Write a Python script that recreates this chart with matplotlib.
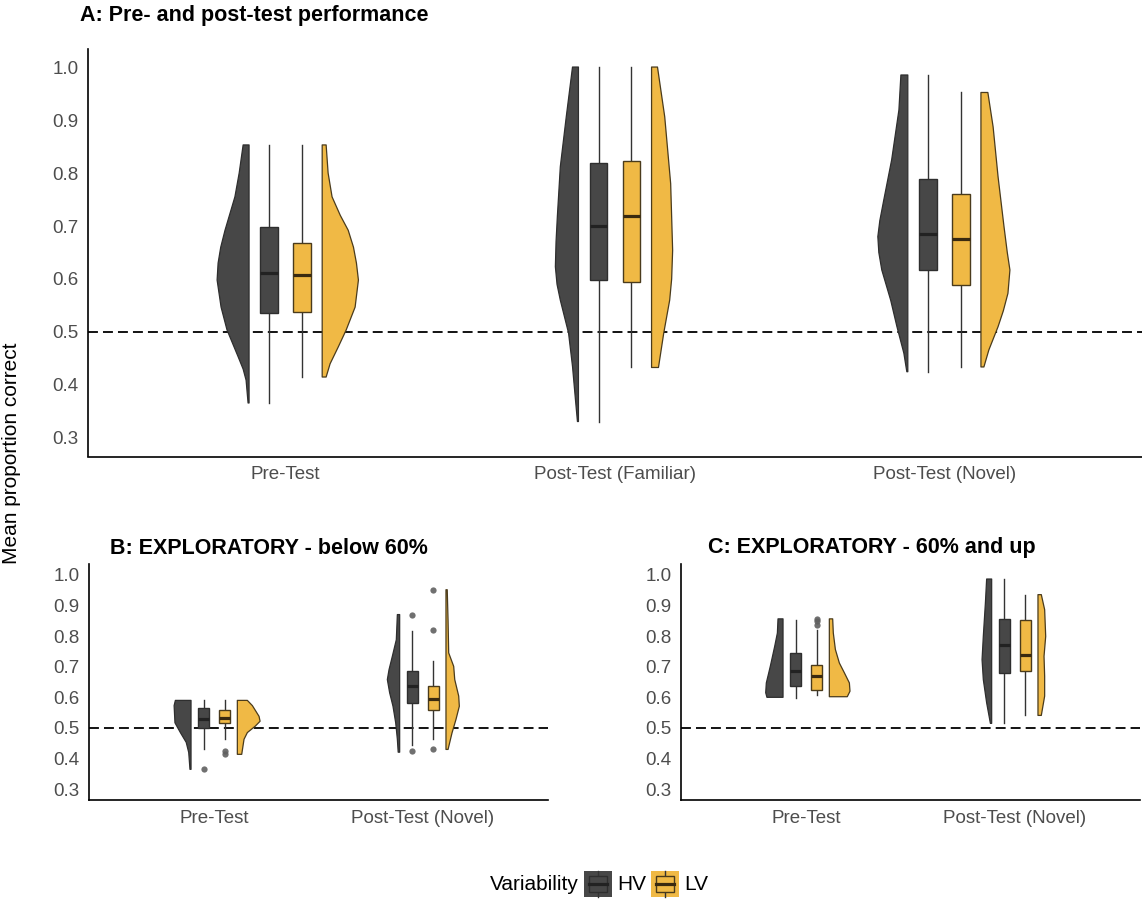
import matplotlib
matplotlib.use("Agg")
import matplotlib.pyplot as plt
from matplotlib.patches import Polygon, Rectangle
from matplotlib.lines import Line2D

plt.rcParams['font.family'] = ['Liberation Sans', 'DejaVu Sans']

# ---- data ----
# violin outlines: y values and half widths (x units), box stats [lo, q1, med, q3, hi]
a_cats = ["Pre-Test", "Post-Test (Familiar)", "Post-Test (Novel)"]
a_hv_vy = [[0.853, 0.80, 0.755, 0.692, 0.66, 0.63, 0.598, 0.547, 0.504, 0.453, 0.43, 0.409, 0.366],
           [1.0, 0.906, 0.812, 0.718, 0.67, 0.623, 0.59, 0.56, 0.498, 0.435, 0.372, 0.331],
           [0.985, 0.919, 0.825, 0.749, 0.71, 0.68, 0.65, 0.617, 0.56, 0.51, 0.46, 0.425]]
a_hv_vw = [[0.018, 0.030, 0.043, 0.073, 0.086, 0.094, 0.097, 0.085, 0.067, 0.033, 0.018, 0.009, 0.003],
           [0.018, 0.037, 0.055, 0.064, 0.068, 0.070, 0.065, 0.055, 0.030, 0.018, 0.009, 0.003],
           [0.021, 0.027, 0.049, 0.073, 0.085, 0.091, 0.088, 0.079, 0.052, 0.033, 0.012, 0.003]]
a_lv_vy = [[0.853, 0.80, 0.755, 0.72, 0.692, 0.66, 0.63, 0.598, 0.547, 0.504, 0.472, 0.44, 0.415],
           [1.0, 0.906, 0.78, 0.654, 0.60, 0.56, 0.498, 0.433],
           [0.952, 0.887, 0.793, 0.699, 0.65, 0.617, 0.573, 0.54, 0.51, 0.466, 0.434]]
a_lv_vw = [[0.012, 0.018, 0.030, 0.055, 0.079, 0.095, 0.104, 0.110, 0.100, 0.073, 0.049, 0.024, 0.012],
           [0.018, 0.040, 0.058, 0.064, 0.061, 0.055, 0.037, 0.021],
           [0.021, 0.037, 0.052, 0.070, 0.080, 0.088, 0.082, 0.068, 0.052, 0.024, 0.009]]
a_hv_box = [[0.366, 0.536, 0.611, 0.698, 0.853],
            [0.331, 0.598, 0.700, 0.818, 1.0],
            [0.425, 0.617, 0.685, 0.789, 0.985]]
a_lv_box = [[0.415, 0.538, 0.607, 0.668, 0.853],
            [0.433, 0.595, 0.718, 0.823, 1.0],
            [0.434, 0.588, 0.675, 0.760, 0.952]]
a_hv_out = [[], [], []]
a_lv_out = [[], [], []]

b_cats = ["Pre-Test", "Post-Test (Novel)"]
b_hv_vy = [[0.59, 0.573, 0.517, 0.485, 0.453, 0.42, 0.365],
           [0.87, 0.788, 0.734, 0.69, 0.658, 0.615, 0.571, 0.517, 0.463, 0.421]]
b_hv_vw = [[0.075, 0.081, 0.077, 0.051, 0.023, 0.011, 0.005],
           [0.011, 0.016, 0.035, 0.051, 0.059, 0.048, 0.032, 0.019, 0.011, 0.007]]
b_lv_vy = [[0.59, 0.573, 0.538, 0.522, 0.506, 0.485, 0.463, 0.414],
           [0.951, 0.85, 0.745, 0.701, 0.658, 0.604, 0.571, 0.528, 0.484, 0.43]]
b_lv_vw = [[0.048, 0.072, 0.104, 0.109, 0.086, 0.048, 0.032, 0.021],
           [0.006, 0.010, 0.013, 0.037, 0.042, 0.061, 0.064, 0.048, 0.029, 0.010]]
b_hv_box = [[0.432, 0.501, 0.528, 0.566, 0.59],
            [0.443, 0.582, 0.636, 0.685, 0.815]]
b_lv_box = [[0.463, 0.515, 0.531, 0.560, 0.59],
            [0.463, 0.560, 0.593, 0.638, 0.720]]
b_hv_out = [[0.365], [0.425, 0.870]]
b_lv_out = [[0.425, 0.415], [0.432, 0.821, 0.951]]

c_cats = ["Pre-Test", "Post-Test (Novel)"]
c_hv_vy = [[0.856, 0.81, 0.766, 0.701, 0.647, 0.615, 0.6],
           [0.986, 0.908, 0.799, 0.723, 0.658, 0.582, 0.515]]
c_hv_vw = [[0.024, 0.027, 0.040, 0.061, 0.080, 0.083, 0.077],
           [0.024, 0.030, 0.040, 0.046, 0.040, 0.024, 0.006]]
c_lv_vy = [[0.856, 0.81, 0.756, 0.712, 0.68, 0.647, 0.62, 0.602],
           [0.935, 0.886, 0.799, 0.734, 0.669, 0.604, 0.541]]
c_lv_vw = [[0.016, 0.019, 0.029, 0.048, 0.072, 0.096, 0.099, 0.086],
           [0.016, 0.032, 0.037, 0.029, 0.032, 0.032, 0.016]]
c_hv_box = [[0.598, 0.638, 0.685, 0.743, 0.852],
            [0.517, 0.680, 0.770, 0.856, 0.985]]
c_lv_box = [[0.606, 0.623, 0.669, 0.704, 0.821],
            [0.541, 0.687, 0.739, 0.851, 0.935]]
c_hv_out = [[], []]
c_lv_out = [[0.837, 0.848, 0.856], []]

chance = 0.5
yticks = [0.3, 0.4, 0.5, 0.6, 0.7, 0.8, 0.9, 1.0]

# ---- styles ----
HV_FILL = "#474747"
HV_EDGE = "#2e2e2e"
HV_MED = "#222222"
LV_FILL = "#F0B945"
LV_EDGE = "#4a3b1c"
LV_MED = "#3a2a10"
TICK_COL = "#4D4D4D"
V_OFF = 0.111
B_OFF = 0.05
B_W = 0.054


def draw_violin(ax, x0, ys, ws, side, fc, ec):
    pts = [(x0 + side * w, y) for y, w in zip(ys, ws)]
    pts = [(x0, ys[0])] + pts + [(x0, ys[-1])]
    ax.add_patch(Polygon(pts, closed=True, facecolor=fc, edgecolor=ec, lw=0.9,
                         joinstyle='round', zorder=2))


def draw_box(ax, xc, st, fc, ec, mc, outs):
    lo, q1, med, q3, hi = st
    ax.plot([xc, xc], [lo, q1], color="#333333", lw=1.0, zorder=2)
    ax.plot([xc, xc], [q3, hi], color="#333333", lw=1.0, zorder=2)
    ax.add_patch(Rectangle((xc - B_W / 2, q1), B_W, q3 - q1, facecolor=fc,
                           edgecolor=ec, lw=1.0, zorder=3))
    ax.plot([xc - B_W / 2, xc + B_W / 2], [med, med], color=mc, lw=2.3, zorder=4,
            solid_capstyle='butt')
    if outs:
        ax.plot([xc] * len(outs), outs, 'o', color="#606060", ms=4.5, alpha=0.9,
                mec='none', zorder=4)


def draw_panel(ax, cats, hv_vy, hv_vw, lv_vy, lv_vw, hv_box, lv_box, hv_out, lv_out):
    for i in range(len(cats)):
        x = i + 1
        draw_violin(ax, x - V_OFF, hv_vy[i], hv_vw[i], -1, HV_FILL, HV_EDGE)
        draw_violin(ax, x + V_OFF, lv_vy[i], lv_vw[i], 1, LV_FILL, LV_EDGE)
        draw_box(ax, x - B_OFF, hv_box[i], HV_FILL, HV_EDGE, HV_MED, hv_out[i])
        draw_box(ax, x + B_OFF, lv_box[i], LV_FILL, LV_EDGE, LV_MED, lv_out[i])
    ax.axhline(chance, color="black", lw=1.3, ls=(0, (5.5, 2.8)), zorder=1)
    ax.set_xlim(0.4, len(cats) + 0.6)
    ax.set_ylim(0.265, 1.035)
    ax.set_xticks(range(1, len(cats) + 1))
    ax.set_xticklabels(cats)
    ax.set_yticks(yticks)
    ax.set_yticklabels(["%.1f" % t for t in yticks])
    ax.tick_params(length=0, labelsize=13.5, labelcolor=TICK_COL, pad=7)
    for s in ["top", "right"]:
        ax.spines[s].set_visible(False)
    for s in ["left", "bottom"]:
        ax.spines[s].set_linewidth(1.2)
        ax.spines[s].set_color("black")


W, H = 1142, 899
fig = plt.figure(figsize=(W / 100, H / 100), dpi=100)

axA = fig.add_axes([88 / W, 1 - 456.5 / H, (1142 - 88) / W, 408 / H])
axB = fig.add_axes([89 / W, 1 - 800 / H, 459 / W, 236 / H])
axC = fig.add_axes([681 / W, 1 - 800 / H, 459 / W, 236 / H])

draw_panel(axA, a_cats, a_hv_vy, a_hv_vw, a_lv_vy, a_lv_vw, a_hv_box, a_lv_box, a_hv_out, a_lv_out)
draw_panel(axB, b_cats, b_hv_vy, b_hv_vw, b_lv_vy, b_lv_vw, b_hv_box, b_lv_box, b_hv_out, b_lv_out)
draw_panel(axC, c_cats, c_hv_vy, c_hv_vw, c_lv_vy, c_lv_vw, c_hv_box, c_lv_box, c_hv_out, c_lv_out)

fig.text(80 / W, 1 - 15 / H, "A: Pre- and post-test performance", fontsize=15.5,
         fontweight='bold', va='center', ha='left')
fig.text(110 / W, 1 - 548 / H, "B: EXPLORATORY - below 60%", fontsize=15.5,
         fontweight='bold', va='center', ha='left')
fig.text(708 / W, 1 - 548 / H, "C: EXPLORATORY - 60% and up", fontsize=15.5,
         fontweight='bold', va='center', ha='left')
fig.text(12 / W, 1 - 453 / H, "Mean proportion correct", fontsize=15, rotation=90,
         va='center', ha='center')

# legend drawn by hand
ly = 1 - 884 / H
fig.text(490 / W, ly, "Variability", fontsize=15, va='center', ha='left')
for x0, fc, ec, mc, lab in [(584, HV_FILL, HV_EDGE, HV_MED, "HV"), (651, LV_FILL, LV_EDGE, LV_MED, "LV")]:
    fig.patches.append(Rectangle((x0 / W, 1 - 897 / H), 28 / W, 26 / H, transform=fig.transFigure,
                                 facecolor=fc, edgecolor="none", zorder=1))
    fig.patches.append(Rectangle(((x0 + 5) / W, 1 - 892 / H), 18 / W, 16 / H, transform=fig.transFigure,
                                 facecolor=fc, edgecolor=ec, lw=1, zorder=2))
    fig.lines.append(Line2D([(x0 + 14) / W, (x0 + 14) / W], [1 - 897 / H, 1 - 871 / H],
                            transform=fig.transFigure, color="#333333", lw=1, zorder=1.5))
    fig.lines.append(Line2D([(x0 + 5) / W, (x0 + 23) / W], [ly, ly], transform=fig.transFigure,
                            color=mc, lw=2.3, zorder=3))
    fig.text((x0 + 33) / W, ly, lab, fontsize=15, va='center', ha='left')

fig.savefig("out.png", dpi=100)
